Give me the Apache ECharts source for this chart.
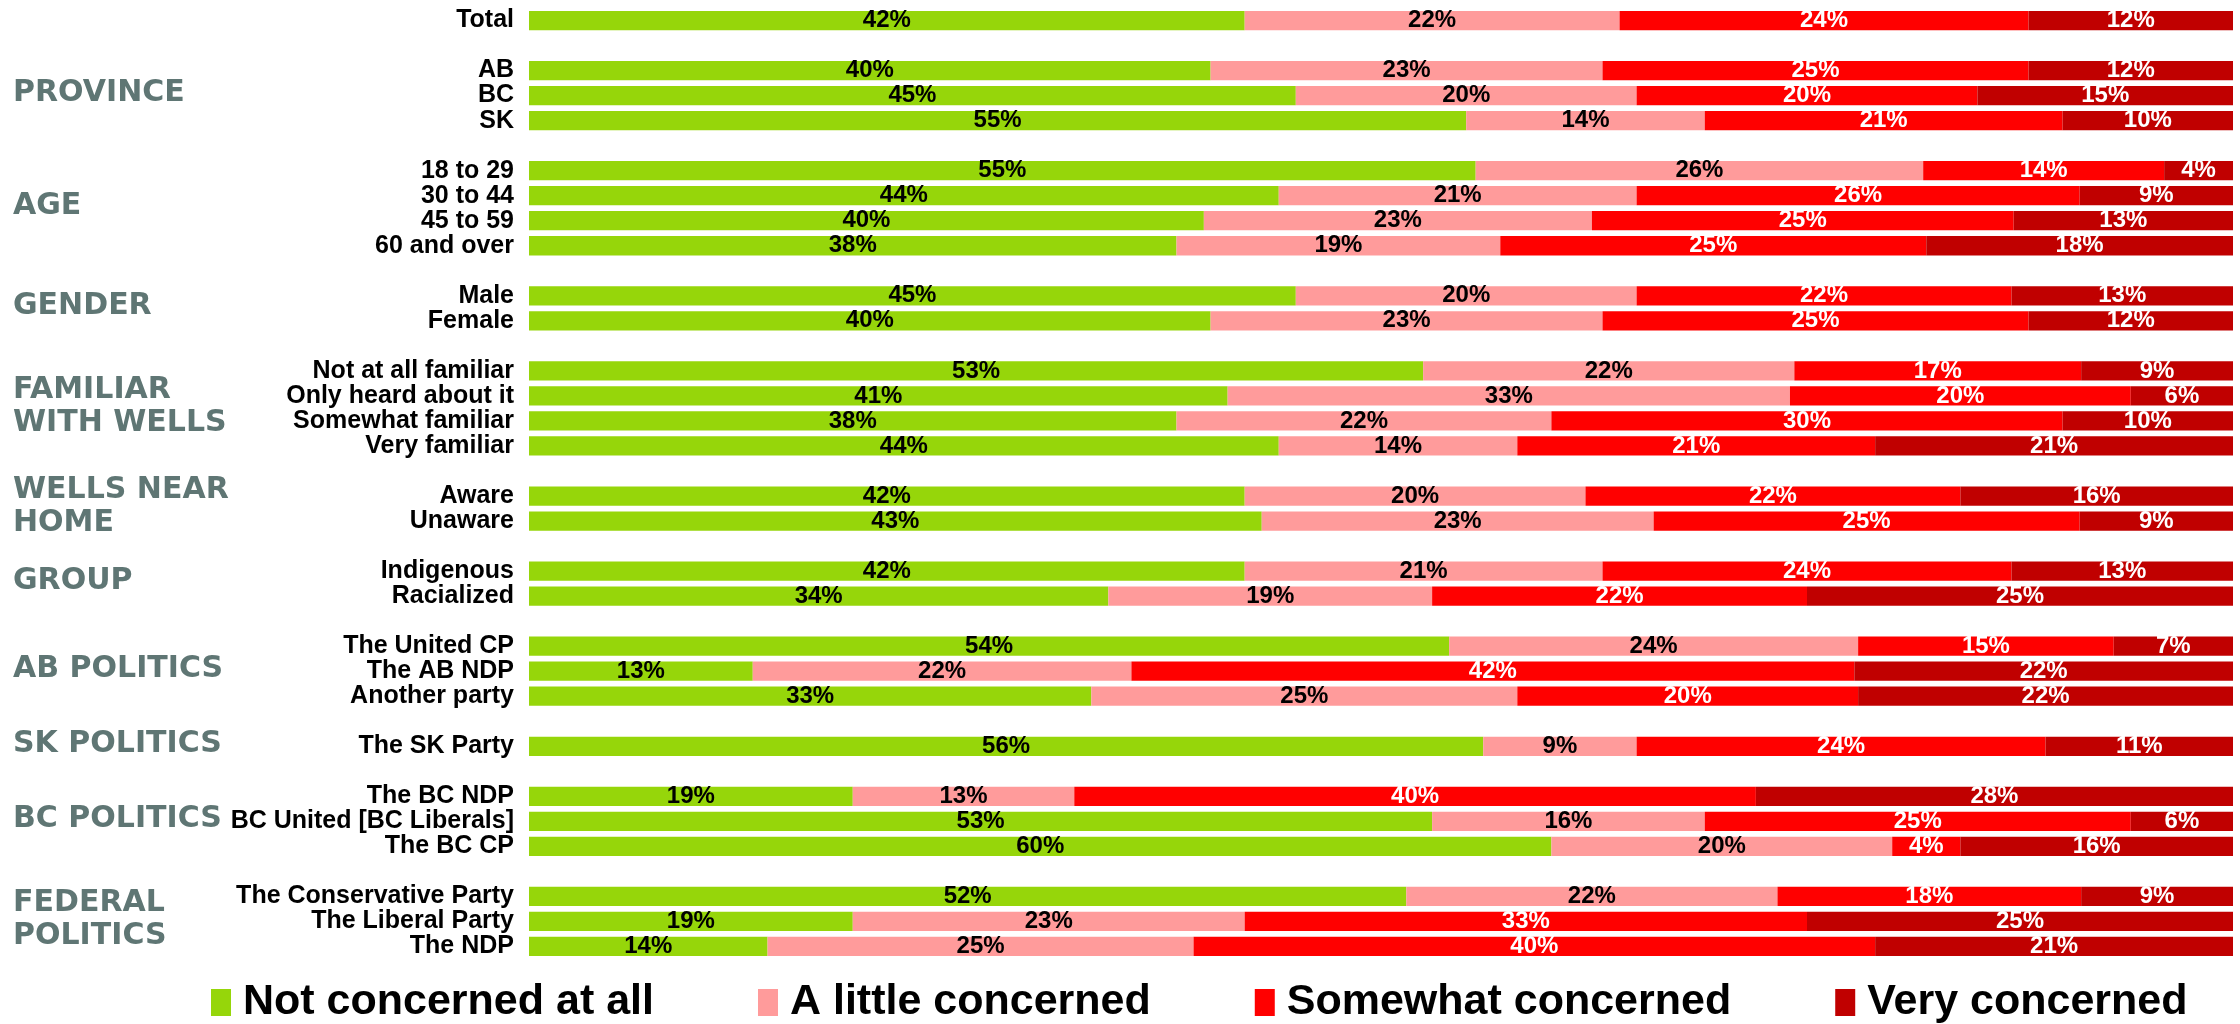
<!DOCTYPE html>
<html><head><meta charset="utf-8">
<script src="https://cdn.jsdelivr.net/npm/echarts@6/dist/echarts.min.js"></script>
<style>html,body{margin:0;padding:0;background:#fff}#c{width:2240px;height:1024px}</style>
</head><body><div id="c"></div>
<script>
const groupNames = ['', 'PROVINCE', 'AGE', 'GENDER', 'FAMILIAR\nWITH WELLS', 'WELLS NEAR\nHOME', 'GROUP', 'AB POLITICS', 'SK POLITICS', 'BC POLITICS', 'FEDERAL\nPOLITICS'];
const groupRows = [
  ['Total'],
  ['AB', 'BC', 'SK'],
  ['18 to 29', '30 to 44', '45 to 59', '60 and over'],
  ['Male', 'Female'],
  ['Not at all familiar', 'Only heard about it', 'Somewhat familiar', 'Very familiar'],
  ['Aware', 'Unaware'],
  ['Indigenous', 'Racialized'],
  ['The United CP', 'The AB NDP', 'Another party'],
  ['The SK Party'],
  ['The BC NDP', 'BC United [BC Liberals]', 'The BC CP'],
  ['The Conservative Party', 'The Liberal Party', 'The NDP']
];
const seriesNames = ['Not concerned at all', 'A little concerned', 'Somewhat concerned', 'Very concerned'];
const notConcerned      = [42,40,45,55,55,44,40,38,45,40,53,41,38,44,42,43,42,34,54,13,33,56,19,53,60,52,19,14];
const littleConcerned   = [22,23,20,14,26,21,23,19,20,23,22,33,22,14,20,23,21,19,24,22,25,9,13,16,20,22,23,25];
const somewhatConcerned = [24,25,20,21,14,26,25,25,22,25,17,20,30,21,22,25,24,22,15,42,20,24,40,25,4,18,33,40];
const veryConcerned     = [12,12,15,10,4,9,13,18,13,12,9,6,10,21,16,9,13,25,7,22,22,11,28,6,16,9,25,21];

const colors = ['#96D60A', '#FF9B9B', '#FF0000', '#C00000'];
const labelColors = ['#000', '#000', '#fff', '#fff'];
const FONT = '"Liberation Sans", Arial, sans-serif';
const GFONT = '"DejaVu Sans", "Liberation Sans", sans-serif';

// build categories with blank spacer rows between groups
const categories = [];
const rowToCat = [];
const groupSpan = [];
groupRows.forEach((rows, g) => {
  if (g > 0) categories.push('');
  const first = categories.length;
  rows.forEach(r => { rowToCat.push(categories.length); categories.push(r); });
  groupSpan.push([first, categories.length - 1]);
});

const allSeries = [notConcerned, littleConcerned, somewhatConcerned, veryConcerned];
const rowSums = notConcerned.map((_, i) => allSeries.reduce((s, a) => s + a[i], 0));

const series = allSeries.map((arr, si) => {
  const data = categories.map(() => '-');
  arr.forEach((v, i) => { data[rowToCat[i]] = { value: v / rowSums[i] * 100, raw: v }; });
  return {
    name: seriesNames[si],
    type: 'bar',
    stack: 'all',
    barWidth: '77%',
    itemStyle: { color: colors[si] },
    label: {
      show: true,
      position: 'inside',
      color: labelColors[si],
      fontSize: 24,
      fontWeight: 'bold',
      fontFamily: FONT,
      formatter: p => (p.data && p.data.raw != null) ? p.data.raw + '%' : ''
    },
    data
  };
});

const chart = echarts.init(document.getElementById('c'), null, { renderer: 'canvas' });
chart.setOption({
  animation: false,
  color: colors,
  grid: { left: 529, right: 7, top: 8, bottom: 65, containLabel: false },
  xAxis: { type: 'value', min: 0, max: 100, show: false },
  yAxis: {
    type: 'category', inverse: true, data: categories,
    axisLine: { show: false }, axisTick: { show: false }, splitLine: { show: false },
    axisLabel: { fontSize: 25, fontWeight: 'bold', color: '#000', margin: 15, fontFamily: FONT, interval: 0 }
  },
  legend: {
    top: 976, left: 206, width: 2032, itemWidth: 20, itemHeight: 27, itemGap: 104, icon: 'rect',
    data: seriesNames,
    textStyle: { fontSize: 43, fontWeight: 'bold', color: '#000', fontFamily: FONT, padding: [0, 0, 0, 7] }
  },
  series
});

const graphics = [];
groupNames.forEach((name, g) => {
  if (!name) return;
  const [a, b] = groupSpan[g];
  const y = (chart.convertToPixel({ yAxisIndex: 0 }, a) + chart.convertToPixel({ yAxisIndex: 0 }, b)) / 2 - 2;
  graphics.push({
    type: 'text', x: 13, y: y,
    style: { text: name, fill: '#5F7674', font: 'bold 30px ' + GFONT, textVerticalAlign: 'middle', lineHeight: 33 }
  });
});
chart.setOption({ graphic: graphics });
</script>
</body></html>
